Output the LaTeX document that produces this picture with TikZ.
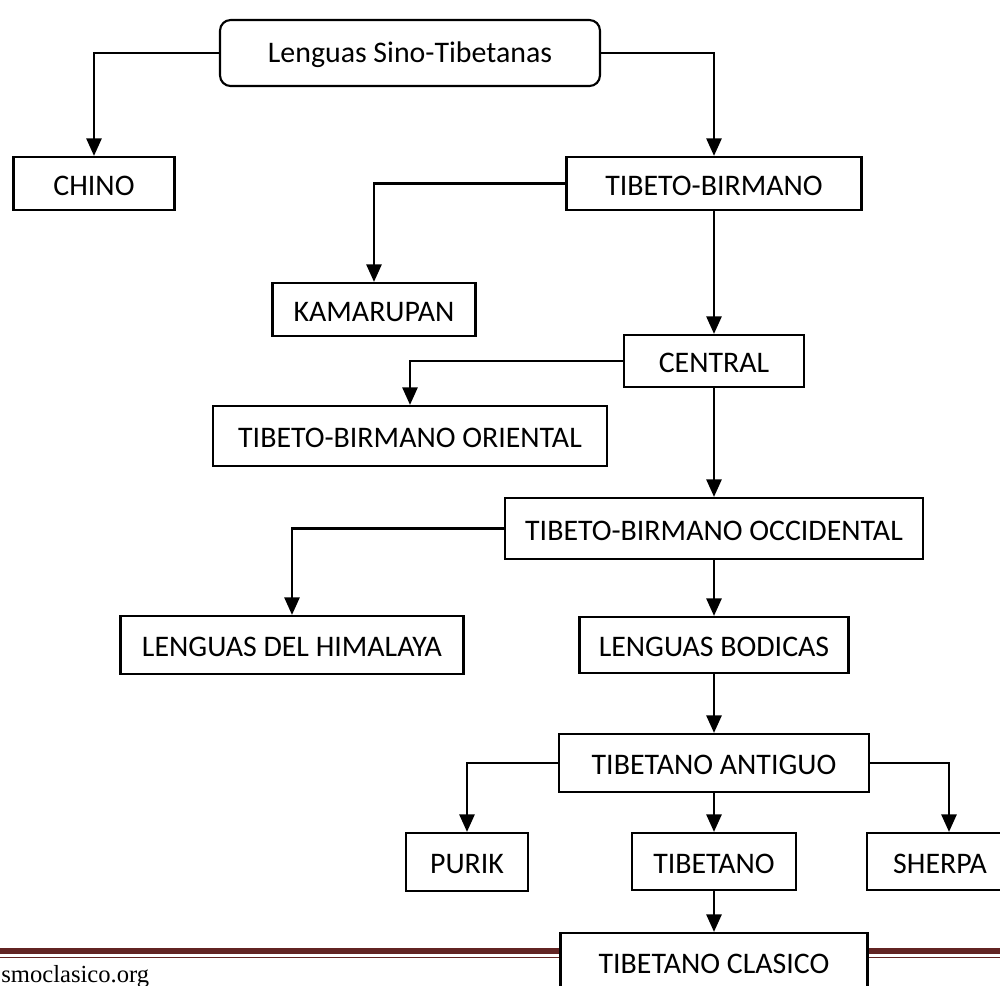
\documentclass[tikz,border=0pt]{standalone}
\usepackage{fontspec}
\setmainfont{Carlito}
\newfontfamily\piedfont{Liberation Serif}
\usetikzlibrary{arrows.meta}
\definecolor{bordeaux}{HTML}{622423}
\tikzset{
  boite/.style={draw, line width=1.2pt, fill=white, inner sep=0pt, text height=13.5pt, text depth=0pt,
    font=\fontsize{17}{20}\selectfont},
  lien/.style={line width=1.6pt, -{Triangle[length=10pt,width=8.5pt]}}
}

\begin{document}
\begin{tikzpicture}[x=0.02cm, y=-0.02cm]
  \useasboundingbox (0,0) rectangle (1000,985);

  % pied de page
  \fill[bordeaux] (0,948) rectangle (1000,954);
  \draw[bordeaux, line width=0.6pt] (0,957.5) -- (1000,957.5);
  \node[anchor=base west, inner sep=0pt, font=\piedfont\fontsize{14}{16}\selectfont] (site) at (1,982) {smoclasico.org};

  % boites
  \node[boite, rounded corners=6pt, text height=11pt, minimum width=7.6cm, minimum height=1.32cm] (sino) at (410,53) {Lenguas Sino-Tibetanas};
  \node[boite, minimum width=3.22cm, minimum height=1.06cm] (chino) at (94,183.5) {CHINO};
  \node[boite, minimum width=5.9cm, minimum height=1.06cm] (tb) at (714,183.5) {TIBETO-BIRMANO};
  \node[boite, minimum width=4.06cm, minimum height=1.06cm] (kama) at (374,309.5) {KAMARUPAN};
  \node[boite, minimum width=3.6cm, minimum height=1.04cm] (central) at (714,361) {CENTRAL};
  \node[boite, minimum width=7.88cm, minimum height=1.2cm] (oriental) at (410,436) {TIBETO-BIRMANO ORIENTAL};
  \node[boite, minimum width=8.36cm, minimum height=1.22cm] (occ) at (714,528.5) {TIBETO-BIRMANO OCCIDENTAL};
  \node[boite, minimum width=6.86cm, minimum height=1.16cm] (himalaya) at (292,645) {LENGUAS DEL HIMALAYA};
  \node[boite, minimum width=5.38cm, minimum height=1.12cm] (bodicas) at (714,645) {LENGUAS BODICAS};
  \node[boite, minimum width=6.2cm, minimum height=1.16cm] (antiguo) at (714,763) {TIBETANO ANTIGUO};
  \node[boite, minimum width=2.44cm, minimum height=1.16cm] (purik) at (467,862) {PURIK};
  \node[boite, minimum width=3.28cm, minimum height=1.14cm] (tibetano) at (714,861.5) {TIBETANO};
  \node[boite, minimum width=2.92cm, minimum height=1.14cm] (sherpa) at (940,861.5) {SHERPA};
  \node[boite, minimum width=6.14cm, minimum height=1.16cm] (clasico) at (714,962) {TIBETANO CLASICO};

  % liens
  \draw[lien] (sino.west) -| (chino.north);
  \draw[lien] (sino.east) -| (tb.north);
  \draw[lien] (tb.west) -| (kama.north);
  \draw[lien] (tb) -- (central);
  \draw[lien] (central.west) -| (oriental.north);
  \draw[lien] (central) -- (occ);
  \draw[lien] (occ.west) -| (himalaya.north);
  \draw[lien] (occ) -- (bodicas);
  \draw[lien] (bodicas) -- (antiguo);
  \draw[lien] (antiguo.west) -| (purik.north);
  \draw[lien] (antiguo) -- (tibetano);
  \draw[lien] (antiguo.east) -| ([xshift=0.18cm]sherpa.north);
  \draw[lien] (tibetano) -- (clasico);
\end{tikzpicture}
\end{document}
